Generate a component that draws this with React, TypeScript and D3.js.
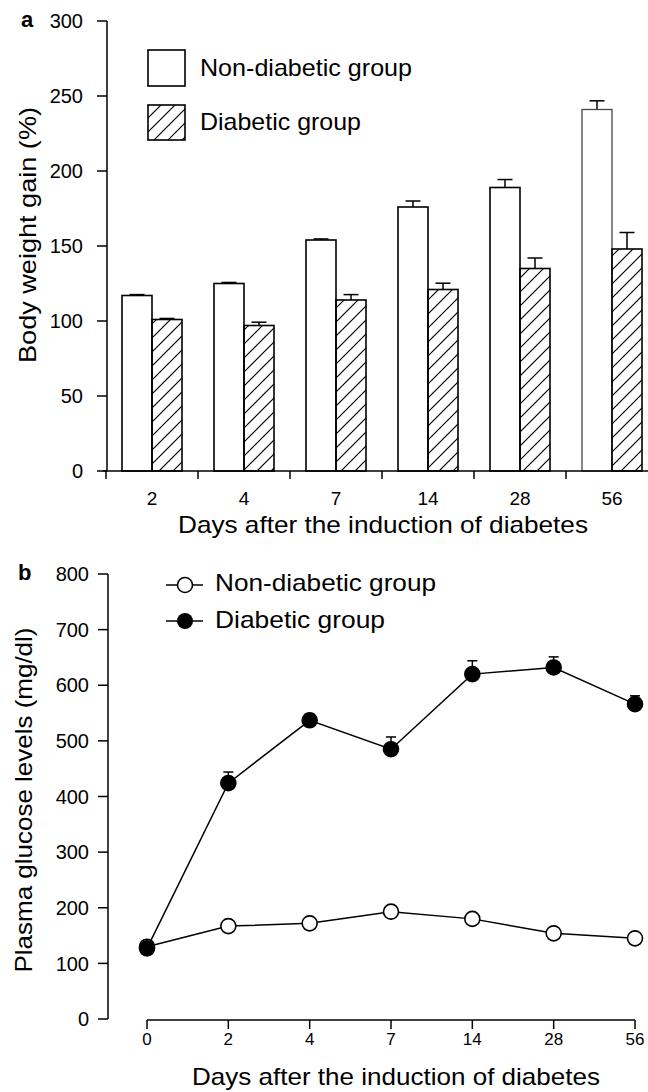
import React from "react";
import * as d3 from "d3";

// panel a: body weight gain
const barDays = ["2", "4", "7", "14", "28", "56"];
const nonDiabeticGain = [117, 125, 154, 176, 189, 241];
const nonDiabeticGainErr = [0.6, 0.7, 0.7, 4, 5.3, 5.8];
const diabeticGain = [101, 97, 114, 121, 135, 148];
const diabeticGainErr = [0.7, 2.2, 3.6, 4.2, 7, 11];
const gainTicks = [0, 50, 100, 150, 200, 250, 300];

// panel b: plasma glucose
const glucoseDays = ["0", "2", "4", "7", "14", "28", "56"];
const nonDiabeticGlucose = [130, 167, 172, 193, 180, 154, 145];
const diabeticGlucose = [127, 424, 537, 485, 620, 632, 566];
const diabeticGlucoseErr = [0, 20, 11, 22, 24, 19, 15];
const glucoseTicks = [0, 100, 200, 300, 400, 500, 600, 700, 800];

const groupNames = ["Non-diabetic group", "Diabetic group"];
const xTitle = "Days after the induction of diabetes";

const FONT = "'Liberation Sans', Arial, sans-serif";

export default function App() {
  const W = 648;
  const H = 1092;

  // ---- panel a scales
  const yA = d3.scaleLinear().domain([0, 300]).range([471, 21]);
  const xA = d3.scaleBand().domain(barDays).range([106, 658]);
  const barW = 30;
  const capA = 15;

  // ---- panel b scales
  const yB = d3.scaleLinear().domain([0, 800]).range([1019, 574]);
  const xB = d3.scalePoint().domain(glucoseDays).range([147, 635]);
  const line = d3
    .line<number>()
    .x((_, i) => xB(glucoseDays[i]) as number)
    .y((d) => yB(d));
  const r = 7.5;
  const capB = 10;

  const bandEdges = [...barDays.map((d) => xA(d) as number), (xA(barDays[barDays.length - 1]) as number) + xA.bandwidth()];

  const errBar = (x: number, y0: number, y1: number, cap: number, key: string) => (
    <g key={key}>
      <line x1={x} x2={x} y1={y0} y2={y1} stroke="#000" strokeWidth={1.5} />
      <line x1={x - cap / 2} x2={x + cap / 2} y1={y1} y2={y1} stroke="#000" strokeWidth={1.5} />
    </g>
  );

  return (
    <svg
      width={W}
      height={H}
      style={{ position: "absolute", left: 0, top: 0, background: "#fff" }}
      fontFamily={FONT}
    >
      <defs>
        <pattern id="hatch" patternUnits="userSpaceOnUse" width="14" height="14">
          <path d="M-3,3 L3,-3 M0,14 L14,0 M11,17 L17,11" stroke="#000" strokeWidth="1.2" />
        </pattern>
      </defs>

      {/* ================= panel a ================= */}
      <text x={21} y={27} fontSize={22} fontWeight="bold">a</text>

      {/* y axis */}
      <line x1={107} x2={107} y1={yA(300)} y2={yA(0)} stroke="#000" strokeWidth={1.5} />
      {gainTicks.map((t) => (
        <g key={"ta" + t}>
          <line x1={97} x2={107} y1={yA(t)} y2={yA(t)} stroke="#000" strokeWidth={1.5} />
          <text x={83} y={yA(t)} dy="0.36em" textAnchor="end" fontSize={20}>{t}</text>
        </g>
      ))}
      <text
        transform="translate(36,235) rotate(-90)"
        textAnchor="middle"
        fontSize={24}
        textLength={256}
        lengthAdjust="spacingAndGlyphs"
      >
        Body weight gain (%)
      </text>

      {/* bars */}
      {barDays.map((d, i) => {
        const cx = (xA(d) as number) + xA.bandwidth() / 2;
        const last = i === barDays.length - 1;
        return (
          <g key={"bar" + d}>
            {errBar(cx - barW / 2, yA(nonDiabeticGain[i]), yA(nonDiabeticGain[i] + nonDiabeticGainErr[i]), capA, "e1")}
            {errBar(cx + barW / 2, yA(diabeticGain[i]), yA(diabeticGain[i] + diabeticGainErr[i]), capA, "e2")}
            <rect x={cx - barW} y={yA(nonDiabeticGain[i])} width={barW} height={yA(0) - yA(nonDiabeticGain[i])} fill="#fff" stroke={last ? "#444" : "#000"} strokeWidth={last ? 1.3 : 1.6} />
            <rect x={cx} y={yA(diabeticGain[i])} width={barW} height={yA(0) - yA(diabeticGain[i])} fill="url(#hatch)" stroke="#000" strokeWidth={1.6} />
            <text x={cx} y={505} textAnchor="middle" fontSize={19}>{d}</text>
          </g>
        );
      })}

      {/* x axis */}
      <line x1={103} x2={W} y1={yA(0)} y2={yA(0)} stroke="#000" strokeWidth={1.5} />
      {bandEdges.map((x, i) => (
        <line key={"ea" + i} x1={x} x2={x} y1={yA(0)} y2={yA(0) + 8} stroke="#000" strokeWidth={1.5} />
      ))}
      <text x={383} y={533} textAnchor="middle" fontSize={24} textLength={410} lengthAdjust="spacingAndGlyphs">{xTitle}</text>

      {/* legend a */}
      <rect x={148} y={50} width={37} height={36} fill="#fff" stroke="#000" strokeWidth={1.6} />
      <rect x={148} y={105} width={37} height={35} fill="url(#hatch)" stroke="#000" strokeWidth={1.6} />
      <text x={200} y={76} fontSize={24} textLength={212} lengthAdjust="spacingAndGlyphs">{groupNames[0]}</text>
      <text x={200} y={130} fontSize={24} textLength={161} lengthAdjust="spacingAndGlyphs">{groupNames[1]}</text>

      {/* ================= panel b ================= */}
      <text x={18} y={580} fontSize={22} fontWeight="bold">b</text>

      <line x1={108} x2={108} y1={yB(800)} y2={yB(0)} stroke="#000" strokeWidth={1.5} />
      {glucoseTicks.map((t) => (
        <g key={"tb" + t}>
          <line x1={98} x2={108} y1={yB(t)} y2={yB(t)} stroke="#000" strokeWidth={1.5} />
          <text x={89} y={yB(t)} dy="0.36em" textAnchor="end" fontSize={20}>{t}</text>
        </g>
      ))}
      <text
        transform="translate(32,800) rotate(-90)"
        textAnchor="middle"
        fontSize={24}
        textLength={345}
        lengthAdjust="spacingAndGlyphs"
      >
        Plasma glucose levels (mg/dl)
      </text>

      {/* x axis b */}
      <line x1={xB("0") as number} x2={xB("56") as number} y1={1020} y2={1020} stroke="#000" strokeWidth={1.5} />
      {glucoseDays.map((d) => (
        <g key={"xb" + d}>
          <line x1={xB(d) as number} x2={xB(d) as number} y1={1020} y2={1029} stroke="#000" strokeWidth={1.5} />
          <text x={xB(d) as number} y={1045} textAnchor="middle" fontSize={17}>{d}</text>
        </g>
      ))}
      <text x={396} y={1085} textAnchor="middle" fontSize={24} textLength={408} lengthAdjust="spacingAndGlyphs">{xTitle}</text>

      {/* error bars */}
      {glucoseDays.map((d, i) =>
        diabeticGlucoseErr[i] > 0
          ? errBar(xB(d) as number, yB(diabeticGlucose[i]), yB(diabeticGlucose[i] + diabeticGlucoseErr[i]), capB, "eb" + d)
          : null
      )}

      <path d={line(nonDiabeticGlucose) || ""} fill="none" stroke="#000" strokeWidth={1.5} />
      <path d={line(diabeticGlucose) || ""} fill="none" stroke="#000" strokeWidth={1.5} />
      {nonDiabeticGlucose.map((v, i) => (
        <circle key={"nd" + i} cx={xB(glucoseDays[i]) as number} cy={yB(v)} r={r} fill="#fff" stroke="#000" strokeWidth={1.6} />
      ))}
      {diabeticGlucose.map((v, i) => (
        <circle key={"dg" + i} cx={xB(glucoseDays[i]) as number} cy={yB(v)} r={r} fill="#000" stroke="#000" strokeWidth={1.6} />
      ))}

      {/* legend b */}
      <line x1={166} x2={203} y1={585} y2={585} stroke="#000" strokeWidth={1.5} />
      <circle cx={185} cy={585} r={7.5} fill="#fff" stroke="#000" strokeWidth={1.6} />
      <text x={215} y={591} fontSize={24} textLength={221} lengthAdjust="spacingAndGlyphs">{groupNames[0]}</text>
      <line x1={166} x2={203} y1={621} y2={621} stroke="#000" strokeWidth={1.5} />
      <circle cx={185} cy={621} r={8} fill="#000" />
      <text x={215} y={628} fontSize={24} textLength={170} lengthAdjust="spacingAndGlyphs">{groupNames[1]}</text>
    </svg>
  );
}
